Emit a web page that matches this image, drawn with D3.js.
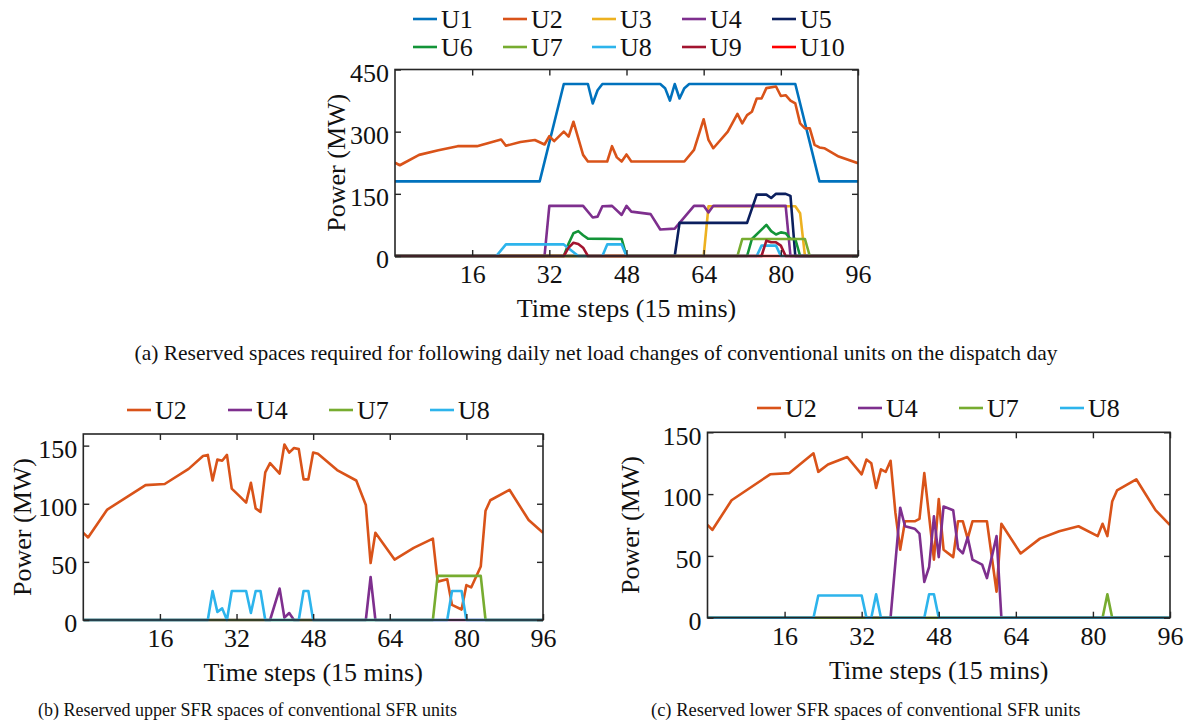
<!DOCTYPE html>
<html><head><meta charset="utf-8">
<script src="https://cdn.jsdelivr.net/npm/d3@7"></script>
<style>
html,body{margin:0;padding:0;background:#fff;}
svg{display:block;font-family:"Liberation Serif","Times New Roman",serif;}
</style></head>
<body>
<svg id="c" width="1192" height="725"></svg>
<script>
// ---------- DATA ----------
const xTicks = [16, 32, 48, 64, 80, 96];
const yTicksA = [0, 150, 300, 450];
const yTicksB = [0, 50, 100, 150];
const yTicksC = [0, 50, 100, 150];

const unitsA = ["U1","U2","U3","U4","U5","U6","U7","U8","U9","U10"];
const unitsBC = ["U2","U4","U7","U8"];
const colors = {U1:"#0072BD",U2:"#D95319",U3:"#EDB120",U4:"#7E2F8E",U5:"#0B1F5E",
  U6:"#139438",U7:"#77AC30",U8:"#2DB4EC",U9:"#A2142F",U10:"#FF0000"};

// (a) reserved spaces [time step, MW]
const a_U1 = [[0,180],[30,180],[35,415],[40,415],[41,368],[42,400],[43,415],[55,415],[56,405],[57,375],[58,415],[59,380],[60,405],[61,415],[83,415],[88,180],[96,180]];
const a_U2 = [[0,225],[1,219],[5,244],[9,255],[13,265],[17,265],[22,281],[23,266],[26,275],[29,280],[31,269],[32,289],[33,277],[35,300],[36,288],[37,324],[39,244],[40,228],[44,228],[45,265],[46,238],[47,228],[48,245],[49,228],[60,228],[62,256],[64,330],[65,280],[66,260],[69,300],[71,343],[72,320],[73,340],[74,348],[75,380],[76,380],[77,405],[79,409],[80,386],[81,388],[82,375],[83,368],[84,320],[85,308],[86,308],[87,268],[88,262],[89,260],[92,240],[96,224]];
const a_U3 = [[0,0],[64,0],[65,120],[83,120],[84,103],[85,0],[96,0]];
const a_U4 = [[0,0],[31,0],[32,121],[39,121],[41,93],[42,95],[43,120],[45,121],[47,99],[48,121],[49,107],[53,101],[55,64],[58,66],[62,121],[64,121],[65,105],[66,121],[81,121],[82,0],[96,0]];
const a_U5 = [[0,0],[58,0],[59,80],[73,80],[75,148],[77,148],[78,140],[79,150],[81,150],[82,145],[83,0],[96,0]];
const a_U6 = [[0,0],[35,0],[36,30],[37,55],[38,60],[39,50],[40,42],[47,41],[48,0],[73,0],[74,41],[77,75],[78,60],[79,52],[80,57],[81,55],[82,41],[83,41],[84,0],[96,0]];
const a_U7 = [[0,0],[71,0],[72,41],[85,41],[86,0],[96,0]];
const a_U8 = [[0,0],[21,0],[23,28],[35,28],[38,0],[43,0],[44,28],[47,28],[48,0],[75,0],[76,25],[79,25],[80,0],[96,0]];
const a_U9 = [[0,0],[35,0],[36,20],[37,32],[38,29],[39,20],[40,0],[76,0],[77,37],[78,33],[79,33],[80,25],[81,0],[96,0]];
const a_U10 = [[0,0],[96,0]];

// (b) upper SFR spaces
const b_U2 = [[0,75],[1,71],[5,95],[13,116],[17,117],[22,130],[25,141],[26,142],[27,120],[28,138],[29,137],[30,142],[31,113],[33,105],[34,101],[35,118],[36,96],[37,93],[38,127],[39,135],[41,126],[42,151],[43,144],[44,148],[45,147],[46,121],[47,121],[48,144],[49,143],[53,129],[57,120],[59,99],[60,49],[61,75],[65,52],[69,62],[73,70],[74,33],[76,35],[77,13],[79,9],[80,30],[81,28],[83,46],[84,94],[85,103],[89,112],[93,86],[96,75]];
const b_U4 = [[0,0],[39,0],[41,27],[42,2],[43,6],[44,0],[59,0],[60,37],[61,0],[96,0]];
const b_U7 = [[0,0],[73,0],[74,38],[83,38],[84,0],[96,0]];
const b_U8 = [[0,0],[26,0],[27,25],[28,7],[29,10],[30,0],[31,25],[34,25],[35,6],[36,25],[37,25],[38,0],[45,0],[46,25],[47,25],[48,0],[76,0],[77,25],[79,25],[80,0],[96,0]];

// (c) lower SFR spaces
const c_U2 = [[0,75],[1,71],[5,95],[13,116],[17,117],[22,133],[23,118],[25,124],[29,130],[32,116],[33,128],[34,125],[35,105],[36,120],[37,118],[38,127],[39,85],[40,55],[41,78],[43,78],[44,80],[45,117],[46,82],[47,47],[48,96],[49,55],[51,49],[52,78],[53,78],[54,64],[55,78],[58,78],[60,21],[61,76],[65,52],[69,64],[73,70],[77,74],[81,66],[82,76],[83,66],[84,94],[85,103],[89,112],[93,87],[96,75]];
const c_U4 = [[0,0],[38,0],[40,89],[41,74],[43,72],[44,68],[45,29],[46,41],[47,82],[48,49],[49,90],[51,87],[52,56],[53,52],[54,65],[55,47],[57,43],[58,32],[60,66],[61,0],[96,0]];
const c_U7 = [[0,0],[82,0],[83,19],[84,0],[96,0]];
const c_U8 = [[0,0],[22,0],[23,18],[32,18],[33,0],[34,0],[35,19],[36,0],[45,0],[46,19],[47,19],[48,0],[96,0]];

const captionA = "(a) Reserved spaces required for following daily net load changes of conventional units on the dispatch day";
const captionB = "(b) Reserved upper SFR spaces of conventional SFR units";
const captionC = "(c) Reserved lower SFR spaces of conventional SFR units";
const xTitle = "Time steps (15 mins)";
const yTitle = "Power (MW)";

// ---------- DRAW ----------
const svg = d3.select("#c");
const FS = 26;
const axisColor = "#262626";

function panel(cfg){
  const x = d3.scaleLinear().domain([0,96]).range([cfg.x0,cfg.x1]);
  const y = d3.scaleLinear().domain([0,cfg.ymax]).range([cfg.y0,cfg.y1]);
  const g = svg.append("g");
  const line = d3.line().x(d=>x(d[0])).y(d=>y(d[1]));
  const clip = "clip"+cfg.id;
  svg.append("clipPath").attr("id",clip).append("rect")
    .attr("x",cfg.x0).attr("y",cfg.y1-2).attr("width",cfg.x1-cfg.x0).attr("height",cfg.y0-cfg.y1+4);
  const lg = g.append("g").attr("clip-path",`url(#${clip})`);
  cfg.series.forEach(s=>{
    lg.append("path").attr("d",line(s.data)).attr("fill","none")
      .attr("stroke",colors[s.name]).attr("stroke-width",2.6).attr("stroke-linejoin","round");
  });
  g.append("rect").attr("x",cfg.x0).attr("y",cfg.y1).attr("width",cfg.x1-cfg.x0).attr("height",cfg.y0-cfg.y1)
    .attr("fill","none").attr("stroke",axisColor).attr("stroke-width",1.6);
  const xa = d3.axisBottom(x).tickValues(xTicks).tickSize(-6).tickPadding(14).tickFormat(d3.format("d"));
  const xg = g.append("g").attr("transform",`translate(0,${cfg.y0})`).call(xa);
  const xt = d3.axisTop(x).tickValues(xTicks).tickSize(-6).tickFormat("");
  const xtg = g.append("g").attr("transform",`translate(0,${cfg.y1})`).call(xt);
  const ya = d3.axisLeft(y).tickValues(cfg.yTicks).tickSize(-6).tickPadding(12).tickFormat(d3.format("d"));
  const yg = g.append("g").attr("transform",`translate(${cfg.x0},0)`).call(ya);
  const yr = d3.axisRight(y).tickValues(cfg.yTicks).tickSize(-6).tickFormat("");
  const yrg = g.append("g").attr("transform",`translate(${cfg.x1},0)`).call(yr);
  [xg,xtg,yg,yrg].forEach(a=>{
    a.select(".domain").remove();
    a.selectAll("line").attr("stroke",axisColor).attr("stroke-width",1.4);
    a.selectAll("text").attr("fill","#111").style("font-size",FS+"px")
      .style("font-family","'Liberation Serif','Times New Roman',serif");
  });
  xg.selectAll("text").attr("dy","0.71em").attr("y",9);
  yg.selectAll("text").attr("x",-6).attr("dy","0.45em");
  g.append("text").attr("x",(cfg.x0+cfg.x1)/2).attr("y",cfg.y0+FS*2.35).attr("text-anchor","middle")
    .style("font-size",FS+"px").attr("fill","#111").text(xTitle);
  g.append("text").attr("transform",`translate(${cfg.ytx},${(cfg.y0+cfg.y1)/2}) rotate(-90)`)
    .attr("text-anchor","middle").attr("dy","0.35em").style("font-size",FS+"px").attr("fill","#111").text(yTitle);
  cfg.legend.forEach(it=>{
    g.append("line").attr("x1",it.x).attr("x2",it.x+24).attr("y1",it.y).attr("y2",it.y)
      .attr("stroke",colors[it.name]).attr("stroke-width",2.6);
    g.append("text").attr("x",it.x+28).attr("y",it.y).attr("dy","0.35em")
      .style("font-size",FS+"px").attr("fill","#111").text(it.name);
  });
}

const seriesA = {U1:a_U1,U2:a_U2,U3:a_U3,U4:a_U4,U5:a_U5,U6:a_U6,U7:a_U7,U8:a_U8,U9:a_U9,U10:a_U10};
const drawOrderA = ["U10","U1","U2","U3","U4","U5","U6","U7","U8","U9"];
const legXA = [413,503,592,682,772];
panel({id:"a",x0:395,x1:858,y0:256,y1:69.5,ymax:450,yTicks:yTicksA,ytx:336,
  series: drawOrderA.map(n=>({name:n,data:seriesA[n]})),
  legend: unitsA.map((n,i)=>({name:n,x:legXA[i%5],y:i<5?19:47}))});

const seriesB = {U2:b_U2,U4:b_U4,U7:b_U7,U8:b_U8};
const legXB = [127,228,329,430];
panel({id:"b",x0:83.3,x1:543,y0:620,y1:434,ymax:160,yTicks:yTicksB,ytx:22,
  series: unitsBC.map(n=>({name:n,data:seriesB[n]})),
  legend: unitsBC.map((n,i)=>({name:n,x:legXB[i],y:410}))});

const seriesC = {U2:c_U2,U4:c_U4,U7:c_U7,U8:c_U8};
const legXC = [757,858,959,1060];
panel({id:"c",x0:707.5,x1:1170,y0:617.7,y1:432.3,ymax:150,yTicks:yTicksC,ytx:630,
  series: unitsBC.map(n=>({name:n,data:seriesC[n]})),
  legend: unitsBC.map((n,i)=>({name:n,x:legXC[i],y:408}))});

svg.append("text").attr("x",596).attr("y",352).attr("dy","0.35em").attr("text-anchor","middle")
  .style("font-size","21.5px").attr("fill","#111").text(captionA);
svg.append("text").attr("x",38).attr("y",710).attr("dy","0.35em")
  .style("font-size","18px").attr("fill","#111").text(captionB);
svg.append("text").attr("x",651).attr("y",710).attr("dy","0.35em")
  .style("font-size","18.5px").attr("fill","#111").text(captionC);
</script>
</body></html>
